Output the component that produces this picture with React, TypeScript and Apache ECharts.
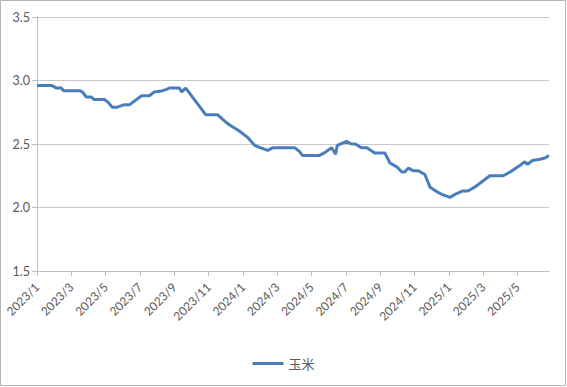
import React, { useEffect, useRef } from "react";
import * as echarts from "echarts";

const seriesName = "玉米";

const dates = [
  "2023/1/1", "2023/1/28", "2023/2/5", "2023/2/13", "2023/2/16", "2023/3/16", "2023/3/21", "2023/3/28",
  "2023/4/6", "2023/4/11", "2023/4/29", "2023/5/5", "2023/5/13", "2023/5/22", "2023/6/4", "2023/6/13",
  "2023/7/4", "2023/7/18", "2023/7/27", "2023/8/11", "2023/8/18", "2023/8/23", "2023/9/10", "2023/9/14",
  "2023/9/21", "2023/10/27", "2023/11/17", "2023/11/29", "2023/12/8", "2023/12/26", "2024/1/10", "2024/1/22",
  "2024/2/2", "2024/2/14", "2024/2/22", "2024/4/2", "2024/4/10", "2024/4/15", "2024/5/15", "2024/5/24",
  "2024/6/6", "2024/6/13", "2024/6/16", "2024/7/2", "2024/7/11", "2024/7/18", "2024/7/29", "2024/8/8",
  "2024/8/22", "2024/9/9", "2024/9/18", "2024/9/30", "2024/10/9", "2024/10/14", "2024/10/21", "2024/10/29",
  "2024/11/7", "2024/11/19", "2024/11/28", "2024/12/12", "2024/12/21", "2024/12/28", "2025/1/3", "2025/1/15",
  "2025/1/26", "2025/2/4", "2025/2/15", "2025/3/4", "2025/3/13", "2025/4/6", "2025/4/18", "2025/5/5",
  "2025/5/14", "2025/5/19", "2025/5/28", "2025/6/10", "2025/6/19", "2025/6/26",
];

const prices = [
  2.96, 2.96, 2.94, 2.94, 2.92, 2.92, 2.91, 2.87,
  2.87, 2.85, 2.85, 2.83, 2.79, 2.79, 2.81, 2.81,
  2.88, 2.88, 2.91, 2.92, 2.93, 2.94, 2.94, 2.91,
  2.94, 2.73, 2.73, 2.68, 2.65, 2.60, 2.55, 2.49,
  2.47, 2.45, 2.47, 2.47, 2.44, 2.41, 2.41, 2.43,
  2.47, 2.42, 2.49, 2.52, 2.50, 2.50, 2.47, 2.47,
  2.43, 2.43, 2.35, 2.32, 2.28, 2.28, 2.31, 2.29,
  2.29, 2.26, 2.16, 2.12, 2.10, 2.09, 2.08, 2.11,
  2.13, 2.13, 2.16, 2.22, 2.25, 2.25, 2.28, 2.33,
  2.36, 2.34, 2.37, 2.38, 2.39, 2.41,
];

const xTickLabels = [
  "2023/1", "2023/3", "2023/5", "2023/7", "2023/9", "2023/11", "2024/1", "2024/3",
  "2024/5", "2024/7", "2024/9", "2024/11", "2025/1", "2025/3", "2025/5",
];

const yTicks = [1.5, 2.0, 2.5, 3.0, 3.5];

function monthIndex(d: string): number {
  const [y, m, day] = d.split("/").map(Number);
  const dim = new Date(y, m, 0).getDate();
  return (y - 2023) * 12 + (m - 1) + (day - 1) / dim;
}

export default function App() {
  const ref = useRef<HTMLDivElement>(null);
  useEffect(() => {
    if (!ref.current) return;
    const chart = echarts.init(ref.current, null, { renderer: "svg" });
    const tickPos = xTickLabels.map((l) => monthIndex(l + "/1"));
    const font = "Lato, 'Noto Sans CJK SC', sans-serif";
    chart.setOption({
      animation: false,
      backgroundColor: "#ffffff",
      textStyle: { fontFamily: font },
      graphic: [
        {
          type: "rect",
          shape: { x: 0.5, y: 0.5, width: 565, height: 385 },
          style: { fill: "none", stroke: "#b4b4b4", lineWidth: 1 },
          silent: true,
        },
      ],
      grid: { left: 37, right: 18, top: 17, bottom: 116, containLabel: false },
      legend: {
        data: [{ name: seriesName, icon: "rect" }],
        left: "center",
        top: 352,
        itemWidth: 31,
        itemHeight: 3,
        itemGap: 5,
        textStyle: { fontFamily: font, fontSize: 13, color: "#595959" },
      },
      xAxis: {
        type: "value",
        min: 0,
        max: monthIndex(dates[dates.length - 1]),
        interval: 2,
        splitLine: { show: false },
        axisLine: { show: true, lineStyle: { color: "#bfbfbf", width: 1 } },
        axisTick: { show: true, length: 5, lineStyle: { color: "#bfbfbf" }, customValues: tickPos },
        axisLabel: {
          customValues: tickPos,
          rotate: 45,
          margin: 14,
          fontSize: 12,
          fontFamily: font,
          color: "#595959",
          formatter: (v: number) => {
            const i = tickPos.findIndex((p) => Math.abs(p - v) < 1e-6);
            return i >= 0 ? xTickLabels[i] : "";
          },
        },
      },
      yAxis: {
        type: "value",
        min: yTicks[0],
        max: yTicks[yTicks.length - 1],
        interval: 0.5,
        axisLine: { show: true, lineStyle: { color: "#bfbfbf", width: 1 } },
        axisTick: { show: true, length: 5, lineStyle: { color: "#bfbfbf" } },
        splitLine: { show: true, lineStyle: { color: "#c8c8c8", width: 1 } },
        axisLabel: {
          margin: 7,
          fontSize: 12.5,
          fontFamily: font,
          color: "#595959",
          formatter: (v: number) => v.toFixed(1),
        },
      },
      series: [
        {
          name: seriesName,
          type: "line",
          showSymbol: false,
          color: "#4a7ebb",
          lineStyle: { color: "#4a7ebb", width: 3 },
          data: dates.map((d, i) => [monthIndex(d), prices[i]]),
        },
      ],
    });
    return () => chart.dispose();
  }, []);
  return (
    <div
      ref={ref}
      style={{ position: "absolute", left: 0, top: 0, width: 567, height: 387 }}
    />
  );
}
